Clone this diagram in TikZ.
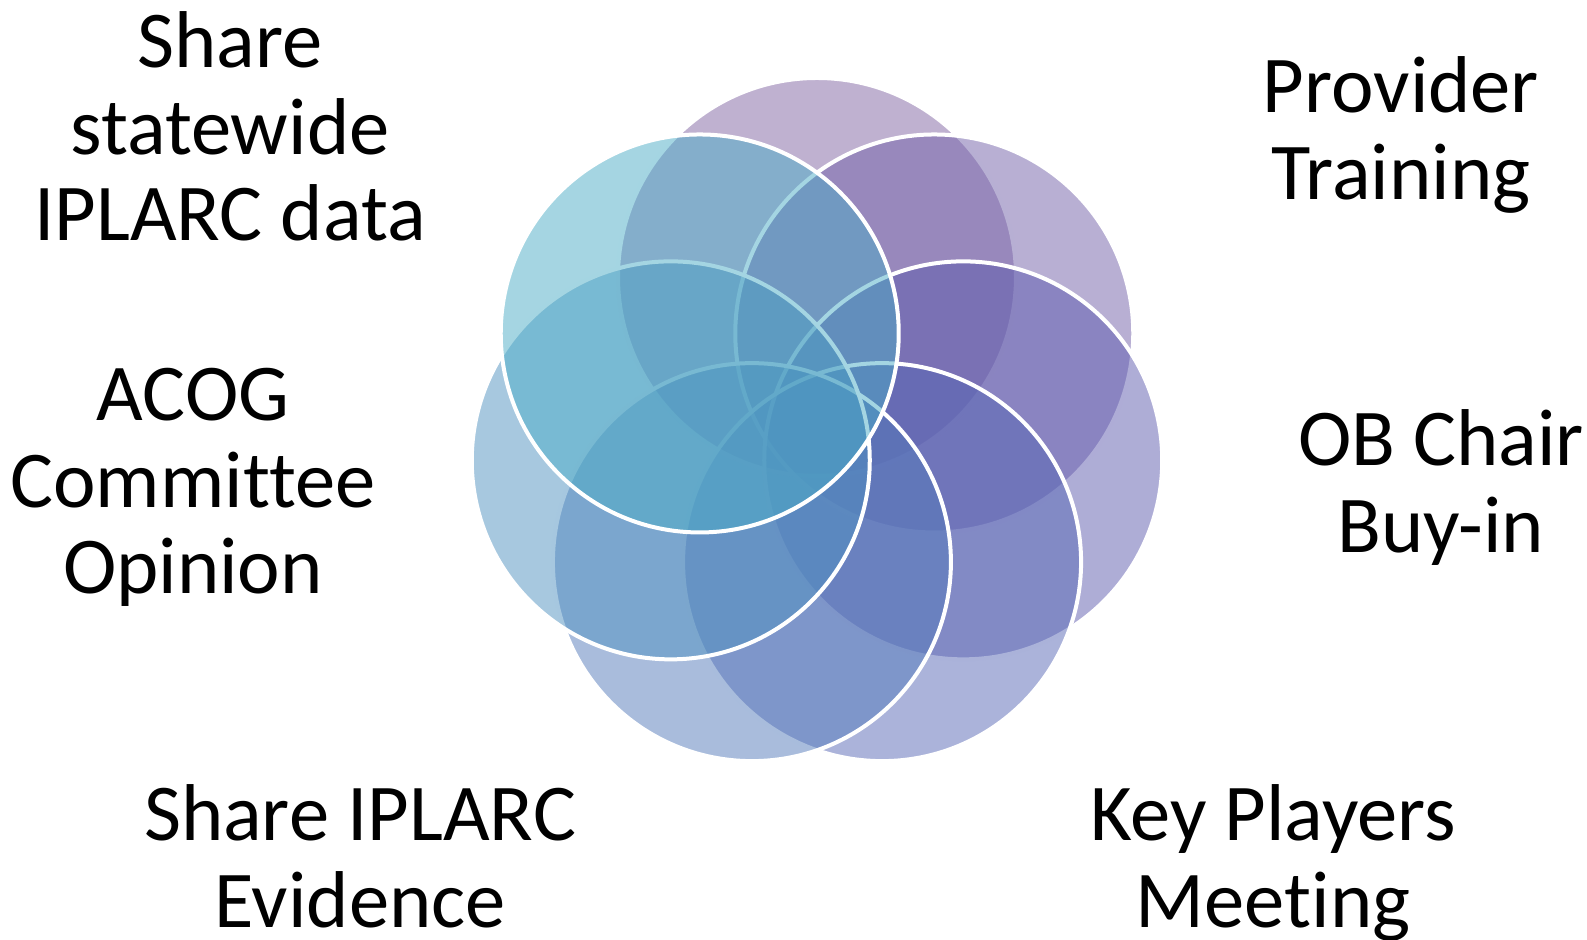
\documentclass[tikz,border=0pt]{standalone}
\usepackage{fontspec}
\setmainfont{Carlito}[Ligatures=NoCommon]
\usetikzlibrary{calc}

% Hue ramp from purple to teal for the seven petals
\definecolor{petalA}{RGB}{128,100,162}
\definecolor{petalB}{RGB}{113,96,168}
\definecolor{petalC}{RGB}{94,91,174}
\definecolor{petalD}{RGB}{87,103,181}
\definecolor{petalE}{RGB}{83,122,186}
\definecolor{petalF}{RGB}{79,145,192}
\definecolor{petalG}{RGB}{75,172,198}

\begin{document}
\begin{tikzpicture}[x=0.5pt,y=0.5pt,
  petal/.style={circle, draw=white, line width=2pt, fill opacity=0.5,
    draw opacity=1, minimum size=199pt, inner sep=0pt},
  lbl/.style={anchor=base, inner sep=0pt,
    font=\fontsize{40.3pt}{43.25pt}\selectfont}]
  \useasboundingbox (0,0) rectangle (1587,940);

  % seven overlapping circles around a common centre
  \coordinate (O) at (817,513);
  \foreach \i/\c in {0/petalA,1/petalB,2/petalC,3/petalD,4/petalE,5/petalF,6/petalG}
    \node[petal, fill=\c] (c\i) at ($(O)+({90-\i*360/7}:150)$) {};

  % captions
  \node[lbl] (t1) at (230,872) {\begin{tabular}[t]{@{}c@{}}Share\\statewide\\IPLARC data\end{tabular}};
  \node[lbl] (t2) at (193,519) {\begin{tabular}[t]{@{}c@{}}ACOG\\Committee\\Opinion\end{tabular}};
  \node[lbl] (t3) at (1401,827) {\begin{tabular}[t]{@{}c@{}}Provider\\Training\end{tabular}};
  \node[lbl] (t4) at (1441,474) {\begin{tabular}[t]{@{}c@{}}OB Chair\\Buy-in\end{tabular}};
  \node[lbl] (t5) at (360,99) {\begin{tabular}[t]{@{}c@{}}Share IPLARC\\Evidence\end{tabular}};
  \node[lbl] (t6) at (1273,99) {\begin{tabular}[t]{@{}c@{}}Key Players\\Meeting\end{tabular}};
\end{tikzpicture}
\end{document}
